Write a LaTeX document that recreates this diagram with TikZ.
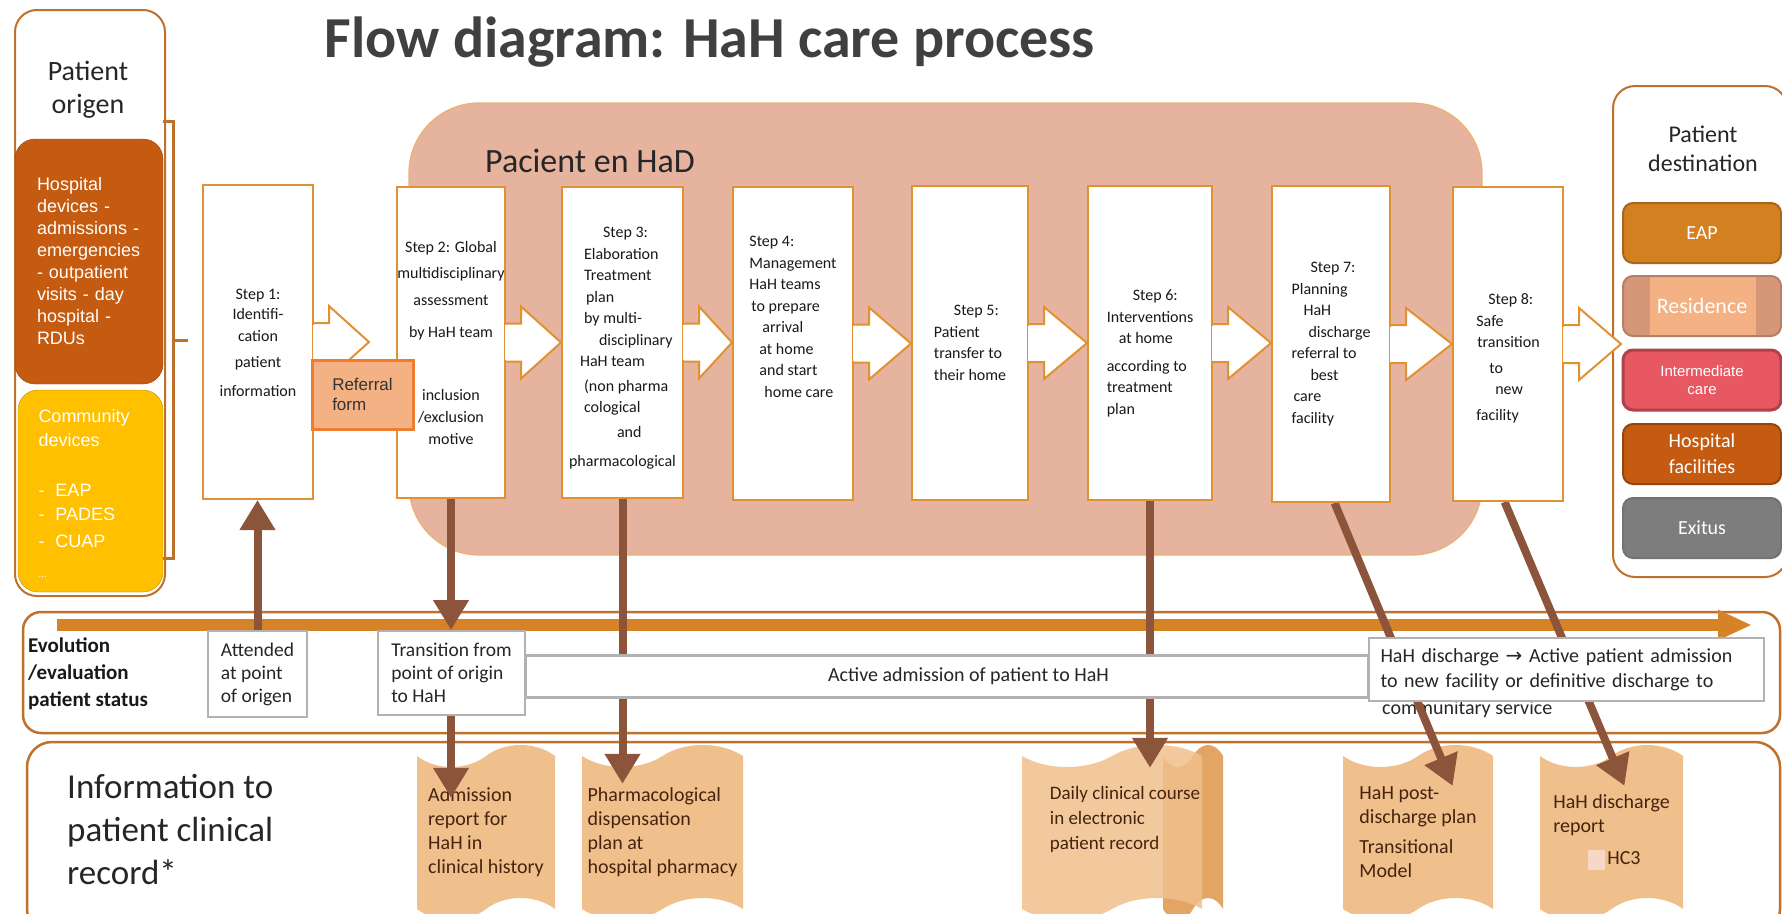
\documentclass[tikz,border=0pt]{standalone}
\usepackage{fontspec}
\setmainfont{Carlito}
\newfontfamily\arialfont{Liberation Sans}
\newfontfamily\hahsym{DejaVu Sans}
\usepackage{xcolor}
\usepackage{tikz}
\usetikzlibrary{positioning,calc,shapes.symbols,arrows.meta}
\definecolor{hahGrey}{RGB}{64,64,64}
\definecolor{hahPink}{RGB}{230,180,158}
\definecolor{hahOrange}{RGB}{225,145,50}
\definecolor{hahFrame}{RGB}{190,112,45}
\definecolor{hahBrown}{RGB}{197,90,17}
\definecolor{hahYellow}{RGB}{255,192,0}
\definecolor{hahArrow}{RGB}{140,84,58}
\definecolor{hahLine}{RGB}{214,130,38}
\definecolor{hahDoc}{RGB}{239,192,140}
\definecolor{hahDocDark}{RGB}{226,165,100}
\definecolor{hahPale}{RGB}{248,215,200}
\definecolor{docText}{RGB}{70,35,15}
\definecolor{refFill}{RGB}{244,177,131}
\definecolor{refDraw}{RGB}{237,125,49}
\definecolor{resEdge}{RGB}{214,150,120}
\definecolor{eapFill}{RGB}{210,128,32}
\definecolor{intFill}{RGB}{232,88,98}
\definecolor{exitFill}{RGB}{125,125,125}
\pgfdeclarelayer{bglayer}
\pgfdeclarelayer{docs}
\pgfdeclarelayer{links}
\pgfsetlayers{bglayer,docs,links,main}

% white arrow leaving a step box towards the next one
\newcommand{\flowarrow}[2]{%
  \filldraw[flow_line] ($(#1.east)+(0,-19)$) -- ++(15,0) -- ++(0,-17) -- (#2)
    -- ($(#1.east)+(15,36)$) -- ++(0,-17) -- ++(-15,0);
  \draw[white, line width=2.5pt] ($(#1.east)+(0,-17.5)$) -- ($(#1.east)+(0,17.5)$);
}

\begin{document}
\begin{tikzpicture}[
  x=1pt, y=-1pt,
  title_text/.style={font=\fontsize{58}{60}\selectfont\bfseries, text=hahGrey},
  had_area/.style={rectangle, rounded corners=70pt, fill=hahPink, draw=hahOrange!70, line width=1.2pt},
  had_title/.style={font=\fontsize{34}{36}\selectfont, text=black!85},
  panel_box/.style={rectangle, rounded corners=22pt, draw=hahFrame, line width=2pt, fill=white},
  panel_title/.style={align=center, text=black!85},
  % coloured boxes of the origin panel
  origin_box/.style={rectangle, rounded corners=20pt, text=white, align=left,
    font=\arialfont\fontsize{18}{22}\selectfont},
  % coloured boxes of the destination panel
  dest_box/.style={rectangle, rounded corners=10pt, minimum width=158, minimum height=60,
    line width=2pt, text=white, align=center, font=\fontsize{20}{26}\selectfont},
  step_box/.style={rectangle, fill=white, draw=hahOrange, line width=2pt, inner sep=0pt,
    align=left, text=black!90, font=\fontsize{16}{21.5}\selectfont},
  flow_line/.style={draw=hahOrange, line width=2pt, fill=white},
  ref_box/.style={rectangle, fill=refFill, draw=refDraw, line width=3pt, minimum width=101,
    minimum height=69, align=left, text=black!80, font=\arialfont\fontsize{17}{20}\selectfont},
  band_box/.style={rectangle, rounded corners=18pt, draw=hahFrame, line width=2.5pt, fill=white},
  timeline/.style={draw=hahLine, line width=12pt, -{Triangle[length=34pt,width=28pt]}},
  status_box/.style={rectangle, fill=white, draw=black!30, line width=2pt, align=left,
    text=black!85, font=\fontsize{19.5}{23}\selectfont},
  bar_box/.style={rectangle, fill=white, draw=black!30, line width=3pt, text=black!85,
    font=\fontsize{20}{23}\selectfont},
  doc_box/.style={tape, tape bend top=in and out, tape bend bottom=in and out,
    tape bend height=22pt, fill=hahDoc, draw=none, inner sep=0pt, minimum height=175,
    align=left, text=docText, font=\fontsize{20}{24}\selectfont},
  brown_arrow/.style={draw=hahArrow, line width=8pt, -{Triangle[length=30pt,width=34pt]}},
  bracket_line/.style={draw=hahFrame, line width=3pt},
  evo_text/.style={anchor=west, inner sep=0pt, align=left, text=black!90,
    font=\fontsize{21}{27}\selectfont\bfseries},
  info_text/.style={anchor=west, inner sep=0pt, align=left, text=black!85,
    font=\fontsize{35}{43}\selectfont}
  ]
  \useasboundingbox (0,0) rectangle (1782,913);

  % Title
  \node[title_text] (title) at (710,42) {Flow diagram: HaH care process};

  % Background areas
  \begin{pgfonlayer}{bglayer}
    \node[had_area, minimum width=1073, minimum height=452] (had) at (945.5,329) {};
    \node[band_box, minimum width=1757, minimum height=121] (evo) at (901.5,672.5) {};
    \node[band_box, rounded corners=25pt, minimum width=1753, minimum height=192] (info) at (903.5,838) {};
    \coordinate (tl_start) at (57,625);
    \coordinate (tl_end) at (1752,625);
    \draw[timeline] (tl_start) -- (tl_end);
  \end{pgfonlayer}
  \node[had_title] (had_label) at (590,161) {Pacient en HaD};

  % Patient origin panel
  \node[panel_box, minimum width=150, minimum height=586] (origin) at (90,303) {};
  \node[panel_title, font=\fontsize{28}{33}\selectfont] (origin_title) at (88,90) {Patient\\origen};
  \node[origin_box, fill=hahBrown, draw=hahBrown!80!black, minimum width=148, minimum height=245,
    text width=104] (hospital) at (89,261.5)
    {Hospital\\devices -\\admissions -\\emergencies\\- outpatient\\visits - day\\hospital -\\RDUs};
  \node[origin_box, fill=hahYellow, draw=hahYellow!75!black, minimum width=145, minimum height=202,
    text width=104, font=\arialfont\fontsize{18}{24}\selectfont] (community) at (90.5,491)
    {\mbox{}\\[-6pt]Community\\devices\\[26pt]-\hspace*{11pt}EAP\\-\hspace*{11pt}PADES\\[3pt]-\hspace*{11pt}CUAP\\[6pt]{\fontsize{10}{10}\selectfont ...}};
  \draw[bracket_line] (163,121) -- (173,121) -- (173,558) -- (163,558);
  \draw[bracket_line] (173,340) -- (188,340);

  % Patient destination panel
  \node[panel_box, minimum width=174, minimum height=491] (dest) at (1700,331.5) {};
  \node[panel_title, font=\fontsize{24}{29}\selectfont] (dest_title) at (1703,148.5) {Patient\\destination};
  \node[dest_box, fill=eapFill, draw=eapFill!80!black] (eap) at (1702,233) {EAP};
  \node[dest_box, fill=resEdge, draw=resEdge!85!black, font=\fontsize{22}{26}\selectfont,
    path picture={\fill[refFill, sharp corners] ([xshift=27pt]path picture bounding box.south west)
      rectangle ([xshift=-25pt]path picture bounding box.north east);}] (residence) at (1702,306) {Residence};
  \node[dest_box, fill=intFill, draw=intFill!75!black, line width=3pt,
    font=\arialfont\fontsize{15}{18}\selectfont] (intermediate) at (1702,380) {Intermediate\\care};
  \node[dest_box, fill=hahBrown, draw=hahBrown!75!black] (hospfac) at (1702,454) {Hospital\\facilities};
  \node[dest_box, fill=exitFill, draw=black!55] (exitus) at (1702,528) {Exitus};

  % Steps 1-8
  \node[step_box, minimum width=110, minimum height=314, align=center, font=\fontsize{16}{20}\selectfont]
    (s1) at (258,342) {\mbox{}\\[-7pt]Step 1:\\Identifi-\\[2pt]cation\\[6pt]patient\\[9pt]information};
  \node[step_box, minimum width=108, minimum height=311, align=center, font=\fontsize{16}{22}\selectfont]
    (s2) at (451,342.5)
    {Step 2: Global\\[4pt]\makebox[100pt]{multidisciplinary}\\[5pt]assessment\\[10pt]by HaH team\\[41pt]inclusion\\/exclusion\\motive};
  \node[step_box, minimum width=121, minimum height=311] (s3) at (622.5,342.5)
    {\mbox{}\\[1pt]\hspace*{34pt}Step 3:\\\hspace*{15pt}Elaboration\\\hspace*{15pt}Treatment\\\hspace*{17pt}plan\\\hspace*{15pt}by multi-\\\hspace*{30pt}disciplinary\\\hspace*{11pt}HaH team\\[3pt]\hspace*{15pt}(non pharma\\\hspace*{15pt}cological\\[3pt]\hspace*{48pt}and\\[8pt]pharmacological};
  \node[step_box, minimum width=120, minimum height=313] (s4) at (793,343.5)
    {Step 4:\\Management\\HaH teams\\\hspace*{2pt}to prepare\\\hspace*{13pt}arrival\\\hspace*{10pt}at home\\\hspace*{10pt}and start\\\hspace*{15pt}home care\\[32pt]\mbox{}};
  \node[step_box, minimum width=116, minimum height=314] (s5) at (970,343)
    {\hspace*{20pt}Step 5:\\Patient\\transfer to\\their home};
  \node[step_box, minimum width=124, minimum height=314] (s6) at (1150,343)
    {\mbox{}\\[10pt]\hspace*{26pt}Step 6:\\Interventions\\\hspace*{12pt}at home\\[6pt]according to\\treatment\\plan};
  \node[step_box, minimum width=118, minimum height=316] (s7) at (1331,344)
    {\hspace*{19pt}Step 7:\\Planning\\\hspace*{12pt}HaH\\\hspace*{17pt}discharge\\referral to\\\hspace*{19pt}best\\\hspace*{2pt}care\\facility};
  \node[step_box, minimum width=110, minimum height=314] (s8) at (1508,344)
    {\mbox{}\\[18pt]\hspace*{12pt}Step 8:\\Safe\\\hspace*{1pt}transition\\[4pt]\hspace*{13pt}to\\\hspace*{19pt}new\\[4pt]facility};

  % Arrows between the steps
  \flowarrow{s1}{$(s1.east)+(55,0)$}
  \flowarrow{s2}{s3.west |- s2.east}
  \flowarrow{s3}{s4.west |- s3.east}
  \flowarrow{s4}{s5.west |- s4.east}
  \flowarrow{s5}{s6.west |- s5.east}
  \flowarrow{s6}{s7.west |- s6.east}
  \flowarrow{s7}{s8.west |- s7.east}
  \flowarrow{s8}{$(s8.east)+(57,0)$}
  \node[ref_box] (referral) at (362.5,394.5) {Referral\\form};

  % Evolution / evaluation of patient status
  \node[evo_text] (evo_label) at (28,674) {Evolution\\/evaluation\\patient status};
  \node[bar_box, minimum width=843, minimum height=42] (active) at (946.5,676)
    {\hspace*{44pt}Active admission of patient to HaH};
  \node[status_box, minimum width=99, minimum height=86] (attended) at (257.5,674) {Attended\\at point\\of origen};
  \node[status_box, minimum width=147, minimum height=84] (trans) at (451.5,673) {Transition from\\point of origin\\to HaH};
  \node[status_box, anchor=north west, minimum width=395, minimum height=63, text width=372,
    font=\fontsize{20}{25}\selectfont] (disch) at (1368,637)
    {HaH discharge {\hahsym →} Active patient admission\\to new facility or definitive discharge to};

  % Information to patient clinical record
  \node[info_text] (info_label) at (67,830) {Information to\\patient clinical\\record*};

  \begin{pgfonlayer}{docs}
    \node[anchor=west, inner sep=0pt, text=black!85, font=\fontsize{20}{25}\selectfont]
      (disch_more) at ($(disch.west)+(14,39.5)$) {communitary service};
    \node[doc_box, minimum width=138] (adm) at (486,832.5) {Admission\\report for\\HaH in\\clinical history};
    \node[doc_box, minimum width=161] (pharm) at (662.5,832.5) {Pharmacological\\dispensation\\plan at\\hospital pharmacy};
    \node[doc_box, fill=hahDocDark, minimum width=60] (daily_back) at (1193,832.5) {};
    \node[doc_box, fill opacity=0.85, text opacity=1, minimum width=180, font=\fontsize{19}{25}\selectfont]
      (daily) at (1112,832.5)
      {\hspace*{26pt}Daily clinical course\\\hspace*{26pt}in electronic\\\hspace*{26pt}patient record\\[4pt]\mbox{}};
    \node[doc_box, minimum width=150] (post) at (1418,832.5) {HaH post-\\discharge plan\\[6pt]Transitional\\Model};
    \node[doc_box, minimum width=143] (report) at (1611.5,832.5)
      {HaH discharge\\report\\[8pt]\hspace*{35pt}{\color{hahPale}\rule[-5pt]{17pt}{20pt}}\hspace*{2pt}HC3};
  \end{pgfonlayer}

  % Links from the steps to status and records
  \begin{pgfonlayer}{links}
    \draw[brown_arrow] (attended.north) -- (attended.north |- s1.south);
    \draw[brown_arrow] (s2.south) -- (s2.south |- trans.north);
    \draw[brown_arrow] (trans.south -| s2.south) -- ($(s2.south |- adm.north)+(0,42)$);
    \draw[brown_arrow] (s3.south) -- ($(s3.south |- pharm.north)+(0,28)$);
    \draw[brown_arrow] (s6.south) -- ($(s6.south |- daily.north)+(0,12)$);
    \draw[brown_arrow] ($(s7.south west)!0.53!(s7.south east)$) -- ($(post.north west)!0.73!(post.north east)+(0,30)$);
    \draw[brown_arrow] ($(s8.south west)!0.47!(s8.south east)$) -- ($(report.north west)!0.59!(report.north east)+(0,30)$);
  \end{pgfonlayer}
\end{tikzpicture}
\end{document}
